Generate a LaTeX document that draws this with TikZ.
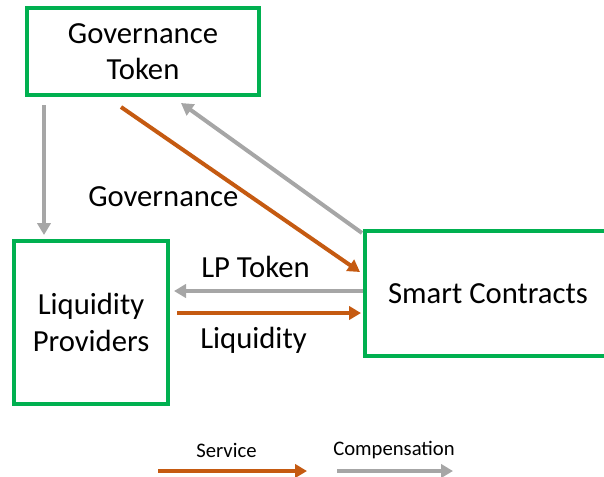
\documentclass[tikz,border=0pt]{standalone}
\usepackage{fontspec}
\setmainfont{Carlito}
\usetikzlibrary{arrows.meta,calc}
\definecolor{boxgreen}{RGB}{0,176,80}
\definecolor{serviceorange}{RGB}{197,90,17}
\definecolor{compgray}{RGB}{166,166,166}
\tikzset{
  entity/.style={draw=boxgreen, line width=3pt, fill=white, align=center,
    inner sep=0pt, font=\fontsize{23}{27.5}\selectfont},
  flowlabel/.style={anchor=base west, inner sep=0pt, font=\fontsize{23}{27.5}\selectfont},
  keylabel/.style={anchor=base west, inner sep=0pt, font=\fontsize{15.5}{18}\selectfont},
  service/.style={draw=serviceorange, line width=3pt,
    -{Triangle[length=9pt,width=10pt]}},
  comp/.style={draw=compgray, line width=3pt,
    -{Triangle[length=9pt,width=10pt]}}
}
\begin{document}
\begin{tikzpicture}[x=0.75pt,y=-0.75pt]
\useasboundingbox (0,0) rectangle (604,476);
\clip (0,0) rectangle (604,476);

% participants
\node[entity, minimum width=232*0.75pt, minimum height=87*0.75pt] (gov) at (143,51.5) {Governance\\Token};
\node[entity, minimum width=154*0.75pt, minimum height=163*0.75pt] (lp) at (91,322.5) {Liquidity\\Providers};
\node[entity, minimum width=246*0.75pt, minimum height=125*0.75pt] (sc) at (488,293.5) {Smart Contracts};

% flows
\draw[comp] ($(gov.south west)+(19,8)$) -- ($(lp.north west)+(32,-4)$);
\draw[service] ($(gov.south west)+(96,10)$) -- ($(sc.north west)+(-3,43)$);
\draw[comp] ($(sc.north west)+(-1,4)$) -- ($(gov.south west)+(156,6)$);
\draw[comp] ($(sc.west)+(0,-2.5)$) -- ($(lp.east)+(4,-31.5)$);
\draw[service] ($(lp.east)+(7,-9.5)$) -- ($(sc.west)+(-2,19.5)$);

% flow labels
\node[flowlabel] (lblgov) at (88,206) {Governance};
\node[flowlabel] (lbllpt) at (201,277) {LP Token};
\node[flowlabel] (lblliq) at (200,348) {Liquidity};

% key
\coordinate (svcA) at (158,471);
\coordinate (svcB) at (307,471);
\coordinate (cmpA) at (337,471);
\coordinate (cmpB) at (453,471);
\draw[service] (svcA) -- (svcB);
\draw[comp] (cmpA) -- (cmpB);
\node[keylabel] (keysvc) at (196,457) {Service};
\node[keylabel] (keycmp) at (333,455) {Compensation};
\end{tikzpicture}
\end{document}
